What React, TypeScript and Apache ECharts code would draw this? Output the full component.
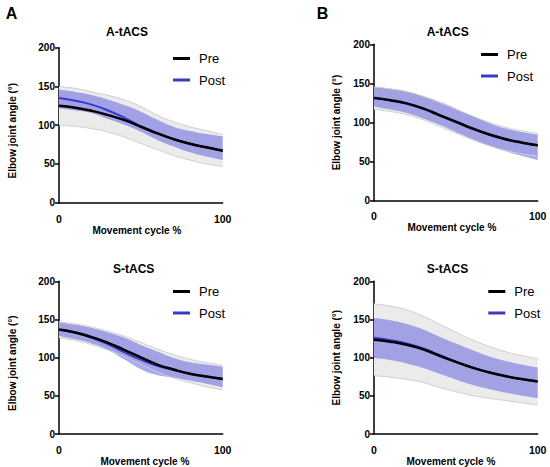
import React, { useEffect, useRef } from "react";
import * as echarts from "echarts";

// ---- Data ----
const cycle = [0, 10, 20, 30, 40, 50, 60, 70, 80, 90, 100];

const panelTitles = ["A-tACS", "A-tACS", "S-tACS", "S-tACS"];
const panelLetters = ["A", "B"];
const legendNames = ["Pre", "Post"];
const yTicks = [0, 50, 100, 150, 200];

// Panel A, A-tACS
const aA_preMean = [125, 122.5, 118.5, 113, 106.5, 98, 89.5, 82, 76, 71.5, 67];
const aA_preUpper = [150, 147.5, 143, 138.5, 132.5, 124, 113, 104.5, 98, 93, 88];
const aA_preLower = [100, 98.5, 95.5, 91, 84.5, 76.5, 68.5, 61, 55, 50, 47];
const aA_postMean = [135, 131.5, 126.5, 119, 109.5, 98.5, 90, 82, 76, 71.5, 67];
const aA_postUpper = [146, 143, 139, 133, 126, 117.5, 107, 98, 92.5, 88.5, 85.5];
const aA_postLower = [122, 119, 115.5, 108, 100.5, 91.5, 81, 72.5, 65, 59.5, 55];

// Panel B, A-tACS
const bA_preMean = [131.5, 128.5, 124.5, 118, 109.5, 101, 92.5, 85, 79, 74.5, 71];
const bA_preUpper = [145.5, 143, 139.5, 133.5, 125.5, 117, 108.5, 100.5, 94, 89.5, 86];
const bA_preLower = [117, 114, 110, 103.5, 95, 86.5, 78, 70.5, 64.5, 60, 57];
const bA_postMean = [131, 128, 124, 117.5, 109, 100.5, 92, 84.5, 78.5, 74, 70.5];
const bA_postUpper = [146, 143, 139.5, 133.5, 126.5, 118, 108.5, 99.5, 92.5, 88, 84.5];
const bA_postLower = [120.5, 116.5, 112, 105, 97, 88, 79, 70.5, 63.5, 57.5, 52];

// Panel A, S-tACS
const aS_preMean = [137, 133, 127, 119.5, 110, 100.5, 91, 84.5, 79, 75.5, 72];
const aS_preUpper = [147, 144, 140, 134.5, 128, 120, 111.5, 104, 98, 93.5, 90];
const aS_preLower = [126, 122.5, 117, 110, 101.5, 91.5, 81.5, 73.5, 67.5, 62, 58];
const aS_postMean = [136.5, 132.5, 126, 117.5, 107, 97.5, 89.5, 84, 79, 75.5, 72];
const aS_postUpper = [146.5, 143, 139, 133, 126, 116.5, 108, 99.5, 94, 91, 88];
const aS_postLower = [128.5, 124, 118.5, 110, 97.5, 85, 77.5, 74, 70, 66, 61.5];

// Panel B, S-tACS
const bS_preMean = [123.5, 121, 117, 111, 102.5, 94.5, 87, 81, 76, 72, 69];
const bS_preUpper = [170.5, 167.5, 162.5, 154.5, 144, 133.5, 123.5, 115, 108, 103, 99];
const bS_preLower = [76.5, 74.5, 71.5, 67.5, 61, 55.5, 50.5, 47, 44, 41, 38];
const bS_postMean = [126, 123, 118.5, 112, 103.5, 95, 87.5, 81, 76, 72, 69];
const bS_postUpper = [152, 149, 144, 137, 127.5, 118.5, 110, 102, 96, 91, 87];
const bS_postLower = [99.5, 97, 92.5, 86.5, 79, 71.5, 64.5, 59, 54.5, 50.5, 47];

const panelData = [
  { pre: [aA_preMean, aA_preUpper, aA_preLower], post: [aA_postMean, aA_postUpper, aA_postLower] },
  { pre: [bA_preMean, bA_preUpper, bA_preLower], post: [bA_postMean, bA_postUpper, bA_postLower] },
  { pre: [aS_preMean, aS_preUpper, aS_preLower], post: [aS_postMean, aS_postUpper, aS_postLower] },
  { pre: [bS_preMean, bS_preUpper, bS_preLower], post: [bS_postMean, bS_postUpper, bS_postLower] },
];

// ---- Layout (pixels) ----
const FONT = "'Liberation Sans', Arial, Helvetica, sans-serif";
const layout = [
  { left: 59, top: 47.7, width: 163.7, height: 155, title: [127, 32], legend: [173, 52], yGap: 41.5, yPad: [0, 11, 0, 0], xMargin: 11, xGap: 12, xPad: [0, 8, 0, 0] },
  { left: 374, top: 44.3, width: 163.7, height: 156.4, title: [447.7, 32], legend: [481, 48], yGap: 33, yPad: [0, 0, 0, 0], xMargin: 10, xGap: 14, xPad: [0, 8, 0, 0] },
  { left: 59, top: 281.3, width: 163.7, height: 156.7, title: [133.7, 269.3], legend: [173, 285], yGap: 41.5, yPad: [0, 11, 0, 0], xMargin: 10, xGap: 14, xPad: [0, 0, 0, 8] },
  { left: 374, top: 281.3, width: 163.7, height: 156.4, title: [447.5, 269], legend: [488.3, 285], yGap: 33, yPad: [0, 0, 0, 0], xMargin: 10, xGap: 14, xPad: [0, 10, 0, 0] },
];
const letterPos = [[11.5, 13], [322.5, 13]];

const COLORS = {
  preLine: "#000000",
  postLine: "#3a3ac8",
  preBand: "#ebebeb",
  preEdge: "#cfcfcf",
  postBand: "rgba(100,100,222,0.55)",
};

const diff = (up: number[], lo: number[]) => up.map((v, i) => v - lo[i]);

function buildOption() {
  const grid: any[] = [];
  const xAxis: any[] = [];
  const yAxis: any[] = [];
  const series: any[] = [];
  const legend: any[] = [];
  const graphic: any[] = [];

  layout.forEach((L, i) => {
    grid.push({ left: L.left, top: L.top, width: L.width, height: L.height, containLabel: false });
    xAxis.push({
      gridIndex: i,
      type: "category",
      boundaryGap: false,
      data: cycle.map(String),
      name: "Movement cycle %",
      nameLocation: "middle",
      nameGap: L.xGap,
      nameTextStyle: { color: "#000", fontWeight: "bold", fontSize: 10, fontFamily: FONT, padding: L.xPad },
      axisLine: { show: true, lineStyle: { color: "#000", width: 1.5 } },
      axisTick: { show: false },
      axisLabel: {
        color: "#000",
        fontWeight: "bold",
        fontSize: 10.5,
        fontFamily: FONT,
        margin: L.xMargin,
        interval: (idx: number) => idx === 0 || idx === cycle.length - 1,
      },
      splitLine: { show: false },
    });
    yAxis.push({
      gridIndex: i,
      type: "value",
      min: yTicks[0],
      max: yTicks[yTicks.length - 1],
      interval: yTicks[1] - yTicks[0],
      name: "Elbow joint angle (°)",
      nameLocation: "middle",
      nameGap: L.yGap,
      nameTextStyle: { color: "#000", fontWeight: "bold", fontSize: 10, fontFamily: FONT, padding: L.yPad },
      axisLine: { show: true, lineStyle: { color: "#000", width: 1.5 } },
      axisTick: { show: true, length: 4, lineStyle: { color: "#000", width: 1.5 } },
      axisLabel: { color: "#000", fontWeight: "bold", fontSize: 10, fontFamily: FONT, margin: 4 },
      splitLine: { show: false },
    });

    const d = panelData[i];
    const base = { type: "line", xAxisIndex: i, yAxisIndex: i, smooth: 0.5, showSymbol: false, silent: true };
    // Pre SD band (grey)
    series.push({ ...base, name: "Pre SD low " + i, stack: "preSD" + i, data: d.pre[2], lineStyle: { color: COLORS.preEdge, width: 1 } });
    series.push({ ...base, name: "Pre SD " + i, stack: "preSD" + i, data: diff(d.pre[1], d.pre[2]), lineStyle: { color: COLORS.preEdge, width: 1 }, areaStyle: { color: COLORS.preBand, opacity: 1 } });
    // Post SD band (blue)
    series.push({ ...base, name: "Post SD low " + i, stack: "postSD" + i, data: d.post[2], lineStyle: { width: 0, opacity: 0 } });
    series.push({ ...base, name: "Post SD " + i, stack: "postSD" + i, data: diff(d.post[1], d.post[2]), lineStyle: { width: 0, opacity: 0 }, areaStyle: { color: COLORS.postBand, opacity: 1 } });
    // Means
    series.push({ ...base, name: legendNames[1], data: d.post[0], color: COLORS.postLine, itemStyle: { color: COLORS.postLine }, lineStyle: { color: COLORS.postLine, width: 2 } });
    series.push({ ...base, name: legendNames[0], data: d.pre[0], color: COLORS.preLine, itemStyle: { color: COLORS.preLine }, lineStyle: { color: COLORS.preLine, width: 2.5 } });

    legend.push({
      orient: "vertical",
      left: L.legend[0],
      top: L.legend[1],
      padding: 0,
      itemGap: 8.5,
      itemWidth: 17,
      itemHeight: 3,
      selectedMode: false,
      data: legendNames.map((n) => ({ name: n, icon: "rect" })),
      textStyle: { color: "#000", fontSize: 13, fontFamily: FONT, lineHeight: 13, padding: [0, 0, 0, 4] },
    });

    graphic.push({
      type: "text",
      x: L.title[0],
      y: L.title[1],
      style: { text: panelTitles[i], textAlign: "center", textVerticalAlign: "middle", align: "center", verticalAlign: "middle", fontSize: 12, fontWeight: "bold", fontFamily: FONT, fill: "#000" },
    });
  });

  panelLetters.forEach((t, i) => {
    graphic.push({
      type: "text",
      x: letterPos[i][0],
      y: letterPos[i][1],
      style: { text: t, textAlign: "center", textVerticalAlign: "middle", align: "center", verticalAlign: "middle", fontSize: 16, fontWeight: "bold", fontFamily: FONT, fill: "#000" },
    });
  });

  return { animation: false, backgroundColor: "#fff", grid, xAxis, yAxis, series, legend, graphic };
}

export default function App() {
  const ref = useRef<HTMLDivElement>(null);
  useEffect(() => {
    if (!ref.current) return;
    const chart = echarts.init(ref.current, null, { renderer: "svg" });
    chart.setOption(buildOption() as any);
    return () => chart.dispose();
  }, []);
  return <div ref={ref} style={{ position: "absolute", left: 0, top: 0, width: 550, height: 467 }} />;
}
